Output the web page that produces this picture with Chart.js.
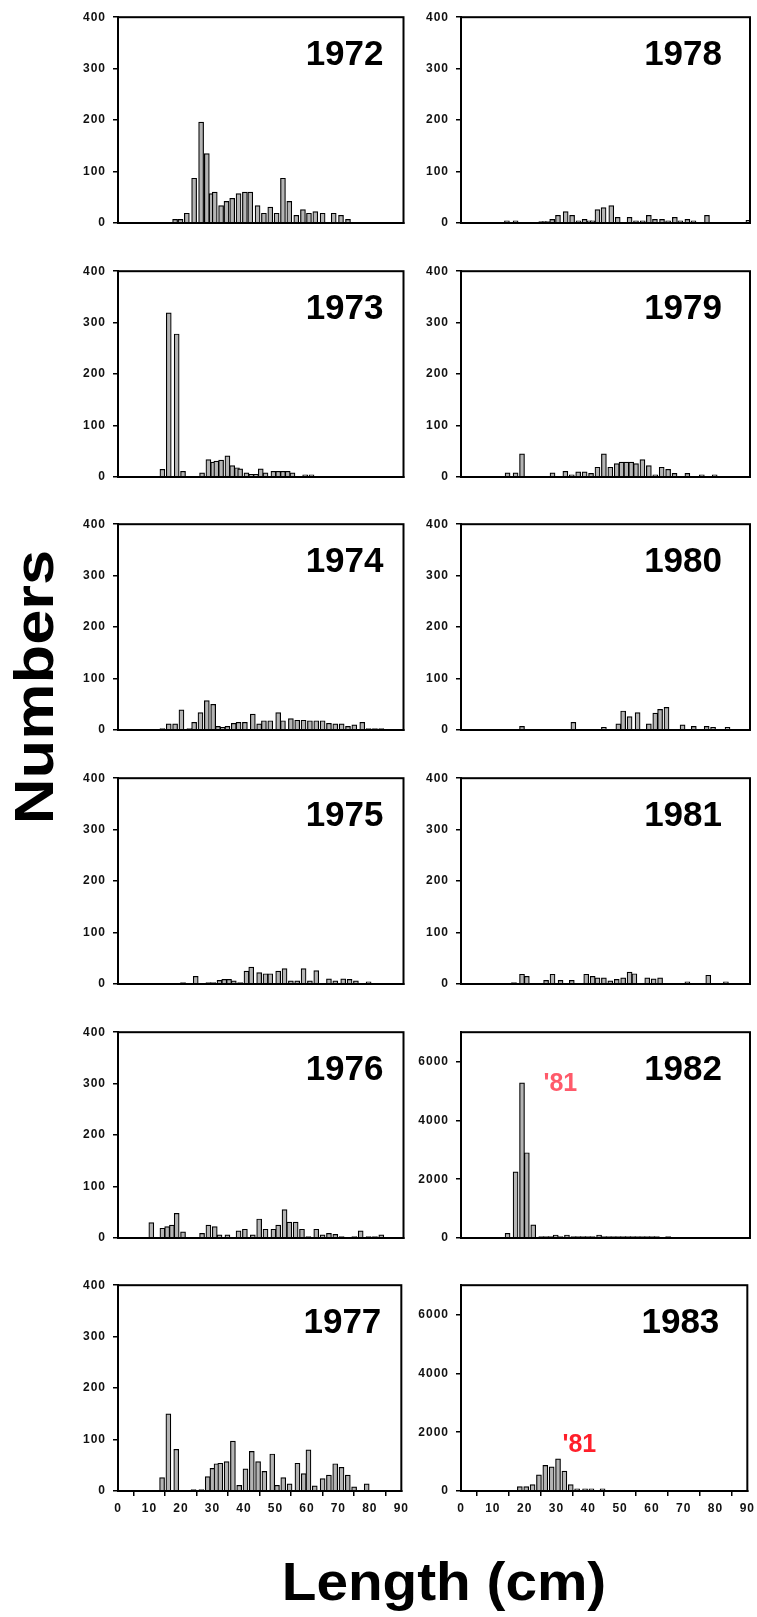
<!DOCTYPE html>
<html><head><meta charset="utf-8">
<script src="https://cdn.jsdelivr.net/npm/chart.js@4.4.1/dist/chart.umd.min.js"></script>
<style>
html,body{margin:0;padding:0;background:#fff;width:757px;height:1617px;overflow:hidden;}
body{position:relative;font-family:"Liberation Sans",Arial,sans-serif;}
canvas{position:absolute;}
.title{position:absolute;font-weight:bold;white-space:nowrap;line-height:1;color:#000;font-family:"Liberation Sans",Arial,sans-serif;}
#ytitle{font-size:56px;left:34px;top:687px;transform:translate(-50%,-50%) rotate(-90deg) scaleX(1.13);}
#xtitle{font-size:53px;left:444px;top:1555px;transform:translateX(-50%) scaleX(1.07);}
</style></head><body>
<div id="ytitle" class="title">Numbers</div>
<div id="xtitle" class="title">Length (cm)</div>
<script>
// ---------------- DATA ----------------
const xTickValues = [0,10,20,30,40,50,60,70,80,90];
const yTicksSmall = [0,100,200,300,400];
const yTicksLarge = [0,2000,4000,6000];
const yMaxSmall = 400;
const yMaxLarge = 7000;

const len1972 = [18,19.7,21.7,24,26.2,28,29.5,30.5,32.5,34.2,36,38,40,41.7,44,46,48,50,52,54,56.2,58.3,60.2,62.2,64.5,68,70.3,72.5];
const num1972 = [7,7,19,87,196,135,57,60,34,42,48,57,60,60,34,19,31,19,87,42,15,26,19,22,19,19,15,7];

const len1973 = [14,16,18.5,20.5,26.5,28.5,30,31,32.5,34.5,36,37.5,38.5,40.5,42,43.5,45,46.5,49,50.5,52,53.5,55,59,61];
const num1973 = [15,319,278,11,8,34,29,31,33,41,22,18,16,8,5,5,16,8,11,11,11,11,8,4,4];

const len1974 = [14,16,18,20,22.5,24,26,28,30,31.5,33,34.5,36.5,38,40,42.5,44.5,46,48,50.5,52,54.5,56.5,58.5,60.5,62.5,64.5,66.5,68.5,70.5,72.5,74.5,77,79,81,83];
const num1974 = [3,12,12,39,3,15,34,57,50,7,5,7,13,15,15,31,12,18,18,34,18,22,19,19,18,18,18,13,12,12,7,10,15,3,3,3];

const len1975 = [20.5,24.5,28.5,30,32,33.5,35,36.5,38.5,40.5,42,44.5,46.5,48,50.5,52.5,54.5,56.5,58.5,60.5,62.5,66.5,68.5,71,73,75,79];
const num1975 = [3,15,3,3,7,9,9,6,3,25,33,22,20,20,25,30,6,6,30,6,26,10,6,10,9,6,4];

const len1976 = [10.5,14,15.5,17,18.5,20.5,26.5,28.5,30.5,32,34.5,38,40,42.5,44.5,46.5,49,50.5,52.5,54,56,58,60,62.5,64.5,66.5,68.5,70.5,74.5,76.5,79,81,83];
const num1976 = [30,19,22,25,48,12,9,25,22,6,6,14,17,6,37,17,17,25,55,31,31,17,3,17,6,9,7,3,3,14,3,3,6];

const len1977 = [14,16,18.5,24,26.5,28.5,30,31.3,32.5,34.5,36.5,38.5,40.5,42.5,44.5,46.5,49,50.5,52.5,54.5,57,59,60.5,62.5,65,67,69,71,73,75,79];
const num1977 = [26,150,81,3,3,28,44,53,54,57,97,11,43,77,57,38,72,11,26,14,54,34,80,10,24,31,53,46,31,8,14];

const len1978 = [14.3,17,25,26,27,28.4,30.2,32.6,34.6,36.6,38.5,40,41,42.5,44.4,46.8,48.8,52.5,54.5,56.6,58.5,60.4,62.6,64.5,66.6,68.3,70.5,72.4,76.6,89.5];
const num1978 = [4,4,3,3,3,7,15,22,15,4,7,4,4,26,30,34,11,11,4,4,15,7,7,4,11,4,7,4,15,5];

const len1979 = [14.5,17,19,28.5,32.5,34.5,36.5,38.5,40.5,42.5,44.5,46.5,48.5,50,51.5,53,54.5,56.5,58.5,60.5,62.5,64.5,66.5,70.5,75,79];
const num1979 = [8,8,45,8,11,4,10,10,7,19,45,19,26,29,29,29,26,34,22,4,19,15,7,7,4,4];

const len1980 = [19,35,44.5,49,50.5,52.5,55,58.5,60.5,62,64,69,72.5,76.5,78.5,83];
const num1980 = [7,15,5,12,37,26,34,12,33,40,44,10,7,7,5,5];

const len1981 = [16.5,19,20.5,26.5,28.5,31,34.5,39,41,42.5,44.5,46.5,48.5,50.5,52.5,54,58,60,62,70.5,77,82.5];
const num1981 = [3,19,15,7,19,7,7,19,15,12,12,6,9,12,23,20,12,10,12,4,17,4];

const len1982 = [14.5,17,19,20.5,22.5,25,26.5,28,29.5,31,33,35,36.5,38,39.5,41,43,44.5,46,47.5,49,50.5,52,53.5,55,56.5,58,59.5,61,64.5];
const num1982 = [160,2250,5280,2900,450,50,50,50,100,50,100,50,50,50,50,50,100,50,50,50,50,50,50,50,50,50,50,50,50,50];

const len1983 = [18.5,20.5,22.5,24.5,26.5,28.5,30.5,32.5,34.5,36.5,39,41,44.5];
const num1983 = [150,150,220,550,870,820,1090,680,220,70,70,70,70];

// cohort notes ('81 year-class), anchored at data coordinates [length, number]
const note1982 = {text:"'81", x:25.7, y:5000};
const note1983 = {text:"'81", x:31.9, y:1330};

// ---------------- LAYOUT / STYLE ----------------
const FONT = '"Liberation Sans", Arial, sans-serif';
const colLeft = [118, 460.5];
const colWidth = [285.5, 289];
const rowTop0 = 15, rowStep = 253.67, plotH = 208;
const PAD_L = 62, PAD_T = 12, PAD_R = 9, AX_H = 34;
const BAR_FILL = '#b4b4b4';

const panels = [
  {year:'1972', col:0, row:0, xs:len1972, ys:num1972, max:yMaxSmall, ticks:yTicksSmall},
  {year:'1973', col:0, row:1, xs:len1973, ys:num1973, max:yMaxSmall, ticks:yTicksSmall},
  {year:'1974', col:0, row:2, xs:len1974, ys:num1974, max:yMaxSmall, ticks:yTicksSmall},
  {year:'1975', col:0, row:3, xs:len1975, ys:num1975, max:yMaxSmall, ticks:yTicksSmall},
  {year:'1976', col:0, row:4, xs:len1976, ys:num1976, max:yMaxSmall, ticks:yTicksSmall},
  {year:'1977', col:0, row:5, xs:len1977, ys:num1977, max:yMaxSmall, ticks:yTicksSmall},
  {year:'1978', col:1, row:0, xs:len1978, ys:num1978, max:yMaxSmall, ticks:yTicksSmall},
  {year:'1979', col:1, row:1, xs:len1979, ys:num1979, max:yMaxSmall, ticks:yTicksSmall},
  {year:'1980', col:1, row:2, xs:len1980, ys:num1980, max:yMaxSmall, ticks:yTicksSmall},
  {year:'1981', col:1, row:3, xs:len1981, ys:num1981, max:yMaxSmall, ticks:yTicksSmall},
  {year:'1982', col:1, row:4, xs:len1982, ys:num1982, max:yMaxLarge, ticks:yTicksLarge, note:note1982, noteColor:'#ff5a6a'},
  {year:'1983', col:1, row:5, xs:len1983, ys:num1983, max:yMaxLarge, ticks:yTicksLarge, note:note1983, noteColor:'#ff1f2a'}
];

const decor = {
  id:'panelDecor',
  beforeDraw(chart){ try{ chart.ctx.letterSpacing = '1px'; }catch(e){} },
  afterDraw(chart, args, opts){
    const {ctx, chartArea:a} = chart;
    ctx.save();
    try{ ctx.letterSpacing = '0px'; }catch(e){}
    ctx.strokeStyle = '#000';
    ctx.lineWidth = 2;
    ctx.strokeRect(a.left, a.top, a.right - a.left, a.bottom - a.top);
    ctx.fillStyle = '#000';
    ctx.font = 'bold 35px ' + FONT;
    ctx.textAlign = 'right';
    ctx.textBaseline = 'alphabetic';
    ctx.fillText(opts.year, a.right - opts.padRight, a.top + 48);
    if (opts.note){
      ctx.fillStyle = opts.noteColor;
      ctx.font = 'bold 25px ' + FONT;
      ctx.textAlign = 'left';
      ctx.fillText(opts.note.text, chart.scales.x.getPixelForValue(opts.note.x), chart.scales.y.getPixelForValue(opts.note.y));
    }
    ctx.restore();
  }
};

const tickFont = {family: FONT, size: 12, weight: 'bold'};
const plainLabel = v => String(v);

panels.forEach(p => {
  const plotLeft = colLeft[p.col], plotW = colWidth[p.col];
  const plotTop = rowTop0 + rowStep * p.row;
  const isBottom = p.row === 5;
  const cv = document.createElement('canvas');
  const W = Math.round(PAD_L + plotW + PAD_R), H = Math.round(PAD_T + plotH + AX_H);
  cv.width = W; cv.height = H;
  cv.style.width = W + 'px'; cv.style.height = H + 'px';
  cv.style.left = (plotLeft - PAD_L) + 'px';
  cv.style.top = (plotTop - PAD_T) + 'px';
  document.body.appendChild(cv);
  new Chart(cv, {
    type:'bar',
    data:{datasets:[{
      data: p.xs.map((x,i) => ({x:x, y:p.ys[i]})),
      backgroundColor: BAR_FILL, borderColor:'#000', borderWidth:1.2,
      barThickness:5, borderSkipped:'start'
    }]},
    options:{
      responsive:false, animation:false, devicePixelRatio:1,
      layout:{padding:{left:0, top:PAD_T, right:W - PAD_L - plotW, bottom:0}},
      plugins:{
        legend:{display:false}, tooltip:{enabled:false},
        panelDecor:{year:p.year, padRight: p.col === 0 ? 20 : 28, note:p.note, noteColor:p.noteColor}
      },
      scales:{
        x:{
          type:'linear', min:0, max:90, offset:false,
          afterBuildTicks(s){ s.ticks = xTickValues.map(v => ({value:v})); },
          ticks:{display:isBottom, font:tickFont, color:'#111', padding:5, maxRotation:0, autoSkip:false, callback:plainLabel},
          grid:{display:true, drawOnChartArea:false, drawTicks:isBottom, tickLength:5, color:'#000', lineWidth:1.5},
          border:{display:true, color:'#000', width:2},
          afterFit(s){ s.height = AX_H; }
        },
        y:{
          type:'linear', min:0, max:p.max,
          afterBuildTicks(s){ s.ticks = p.ticks.map(v => ({value:v})); },
          ticks:{font:tickFont, color:'#111', padding:7, callback:plainLabel},
          grid:{display:true, drawOnChartArea:false, drawTicks:true, tickLength:5, color:'#000', lineWidth:1.5},
          border:{display:true, color:'#000', width:2},
          afterFit(s){ s.width = PAD_L; }
        }
      }
    },
    plugins:[decor]
  });
});
</script>
</body></html>
